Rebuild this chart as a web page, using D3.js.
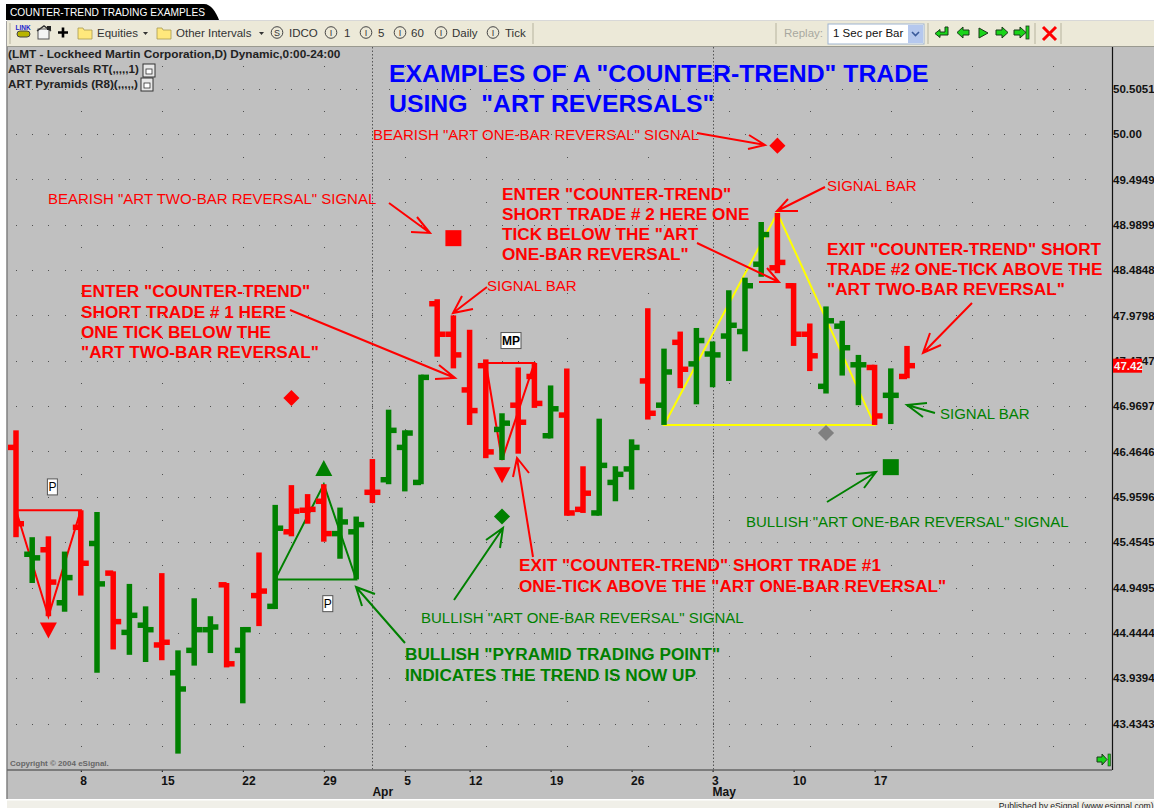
<!DOCTYPE html>
<html>
<head>
<meta charset="utf-8">
<title>COUNTER-TREND TRADING EXAMPLES</title>
<script src="https://cdn.jsdelivr.net/npm/d3@7"></script>
<style>
  html, body { margin: 0; padding: 0; background: #fff; overflow: hidden; }
  svg { display: block; font-family: "Liberation Sans", Arial, sans-serif; }
  svg text { white-space: pre; }
  .bold { font-weight: bold; }
</style>
</head>
<body>
<div class="chart"></div>
<script>
// LMT daily bars (Apr 9 2004 was a market holiday)
const days = [
  "Mar 2","Mar 3","Mar 4","Mar 5","Mar 8","Mar 9","Mar 10","Mar 11","Mar 12","Mar 15","Mar 16","Mar 17","Mar 18","Mar 19",
  "Mar 22","Mar 23","Mar 24","Mar 25","Mar 26","Mar 29","Mar 30","Mar 31","Apr 1","Apr 2","Apr 5","Apr 6","Apr 7","Apr 8",
  "Apr 12","Apr 13","Apr 14","Apr 15","Apr 16","Apr 19","Apr 20","Apr 21","Apr 22","Apr 23","Apr 26","Apr 27","Apr 28","Apr 29","Apr 30",
  "May 3","May 4","May 5","May 6","May 7","May 10","May 11","May 12","May 13","May 14","May 17","May 18","May 19"
];
const opens = [
  46.51,45.32,45.37,44.78,45.62,45.44,45.11,44.45,44.53,44.31,44.00,44.25,44.48,44.98,
  44.25,44.86,44.74,45.57,45.81,45.91,45.55,45.57,46.01,46.15,46.51,46.12,48.11,47.77,
  47.15,47.42,46.71,46.98,47.30,46.64,46.87,45.82,45.78,46.12,46.27,47.25,46.98,47.68,47.44,
  47.55,47.75,47.80,48.55,48.51,48.31,47.77,47.19,47.86,47.43,47.40,47.09,47.30
];
const highs = [
  46.70,45.51,45.52,45.35,45.81,45.79,45.13,44.99,44.74,45.11,44.25,44.83,44.63,45.00,
  44.51,45.34,45.87,46.09,45.99,46.10,45.84,45.74,46.38,46.93,46.70,47.32,48.16,47.98,
  47.82,47.49,46.89,47.40,47.45,47.20,47.39,46.30,46.83,46.30,46.60,48.06,47.61,47.80,47.84,
  47.69,48.26,48.40,49.02,49.12,48.34,47.89,48.08,47.92,47.54,47.43,47.39,47.64
];
const lows = [
  45.51,45.00,44.63,44.68,44.86,44.00,44.26,44.20,44.12,44.14,43.10,44.08,44.22,44.06,
  43.66,44.52,44.71,45.52,45.66,45.46,45.27,45.04,45.89,46.10,46.02,46.10,47.52,47.39,
  46.76,46.39,46.37,46.44,46.95,46.61,45.75,45.78,45.75,45.91,46.04,46.82,46.76,47.17,46.99,
  47.18,47.25,47.58,48.41,48.45,47.64,47.36,47.11,47.31,46.98,46.76,46.77,47.28
];
const closes = [
  45.66,45.28,45.01,45.06,45.22,44.99,44.57,44.64,44.48,44.34,43.82,44.48,44.51,44.10,
  44.48,44.91,45.61,45.80,45.82,45.55,45.68,45.65,46.01,46.70,46.67,47.29,47.77,47.54,
  46.92,46.46,46.78,46.79,47.00,46.94,45.78,46.00,46.31,46.21,46.51,46.89,47.35,47.38,47.70,
  47.54,47.87,48.31,48.88,48.57,47.77,47.53,47.92,47.62,47.43,46.86,47.09,47.42
];
const barColors = [
  "r","g","r","g","r","g","r","g","g","r","g","g","g","r",
  "g","r","g","r","r","r","g","g","r","g","g","g","r","r",
  "r","r","g","r","r","g","r","r","g","g","g","r","g","r","g",
  "g","g","g","g","r","r","r","g","g","g","r","g","r"
];

const priceTicks = [50.5051,50,49.4949,48.9899,48.4848,47.9798,47.4747,46.9697,46.4646,45.9596,45.4545,44.9495,44.4444,43.9394,43.4343];
const dateTicks = ["Mar 8","Mar 15","Mar 22","Mar 29","Apr 5","Apr 12","Apr 19","Apr 26","May 3","May 10","May 17"];
const monthStarts = [["Apr 1","Apr"],["May 3","May"]];
const lastPrice = 47.42;

// pyramid patterns: [corner, apex, corner] as [day, price]
const pyramids = [
  { color: "#ff0000", points: [["Mar 2",45.81],["Mar 4",44.63],["Mar 8",45.81]] },
  { color: "#008000", points: [["Mar 24",45.04],["Mar 29",46.10],["Mar 31",45.04]] },
  { color: "#ff0000", points: [["Apr 13",47.45],["Apr 14",46.37],["Apr 16",47.45]] },
  { color: "#ffff00", points: [["Apr 28",46.76],["May 7",49.12],["May 17",46.76]] }
];
const signals = [
  { day: "May 7",  price: 49.87, shape: "diamond", color: "#ff0000" },
  { day: "Apr 8",  price: 48.84, shape: "square",  color: "#ff0000" },
  { day: "Mar 25", price: 47.06, shape: "diamond", color: "#ff0000" },
  { day: "Mar 29", price: 46.28, shape: "up",      color: "#008000" },
  { day: "Mar 4",  price: 44.47, shape: "down",    color: "#ff0000" },
  { day: "Apr 14", price: 46.20, shape: "down",    color: "#ff0000" },
  { day: "Apr 14", price: 45.74, shape: "diamond", color: "#008000" },
  { day: "May 12", price: 46.67, shape: "diamond", color: "#808080" },
  { day: "May 18", price: 46.29, shape: "square",  color: "#008000" }
];
const tags = [
  { day: "Mar 4",  price: 46.07, text: "P" },
  { day: "Mar 29", price: 44.77, text: "P" },
  { day: "Apr 14", price: 47.70, text: "MP" }
];

const RED = "#ff0000", GREEN = "#008000", BLUE = "#0000ff";

const svg = d3.select(".chart").append("svg").attr("width", 1154).attr("height", 808);

const x = d3.scalePoint().domain(days).range([16, 907]);
const y = d3.scaleLinear().domain([50, 43.4343]).range([134, 723.6]);
const step = x.step();
const axisX = 1112, axisY = 770, plotTop = 47;

// ---- window frame ----
svg.append("rect").attr("x", 7).attr("y", plotTop).attr("width", 1147).attr("height", 752).attr("fill", "#c0c0c0");
svg.append("line").attr("x1", 7).attr("x2", 7).attr("y1", 21).attr("y2", 800).attr("stroke", "#808080").attr("stroke-width", 1.5);
svg.append("rect").attr("x", 0).attr("y", 799).attr("width", 1154).attr("height", 1.5).attr("fill", "#fff");
svg.append("rect").attr("x", 7).attr("y", 800.5).attr("width", 1147).attr("height", 8).attr("fill", "#f0efe8");
svg.append("text").attr("x", 1153.5).attr("y", 809).attr("text-anchor", "end").attr("font-size", 8.6).attr("fill", "#222")
  .text("Published by eSignal (www.esignal.com)");

// title tab
svg.append("path").attr("d", "M6,4H204C211,4 216,12 219,20H6Z").attr("fill", "#000");
svg.append("text").attr("x", 10).attr("y", 15.5).attr("font-size", 10.2).attr("fill", "#fff").text("COUNTER-TREND TRADING EXAMPLES");

// ---- toolbar ----
const bar = svg.append("g");
bar.append("rect").attr("x", 7).attr("y", 21).attr("width", 1147).attr("height", 25).attr("fill", "#ece9d8");
bar.append("line").attr("x1", 7).attr("x2", 1154).attr("y1", 20.5).attr("y2", 20.5).attr("stroke", "#d8d8d8");
bar.append("line").attr("x1", 7).attr("x2", 1154).attr("y1", 46.5).attr("y2", 46.5).attr("stroke", "#9a9a90");

function toolText(tx, txt, color) {
  bar.append("text").attr("x", tx).attr("y", 37).attr("font-size", 11.5).attr("fill", color || "#333").text(txt);
}
function separator(sx) {
  bar.append("line").attr("x1", sx).attr("x2", sx).attr("y1", 23).attr("y2", 44).attr("stroke", "#c8c5b2").attr("stroke-width", 1.5);
}
function folder(fx) {
  bar.append("path").attr("d", `M${fx},28h5l1,2h8v9h-14z`).attr("fill", "#ffe87c").attr("stroke", "#a89a50").attr("stroke-width", 0.8);
}
function badge(bx, letter) {
  bar.append("circle").attr("cx", bx).attr("cy", 32.5).attr("r", 5.8).attr("fill", "none").attr("stroke", "#444");
  bar.append("text").attr("x", bx).attr("y", 36).attr("text-anchor", "middle").attr("font-size", 9).attr("fill", "#333").text(letter);
}
function caret(cx) {
  bar.append("path").attr("d", `M${cx},32h5l-2.5,3z`).attr("fill", "#333");
}
// green arrow button, dir = 1 points right, -1 points left
function greenArrow(cx, dir) {
  bar.append("path")
    .attr("d", `M${cx - 6 * dir},30h${6 * dir}v-3l${6 * dir},5.5l${-6 * dir},5.5v-3h${-6 * dir}z`)
    .attr("fill", "#19d419").attr("stroke", "#1a3a1a").attr("stroke-width", 1);
}

separator(10);
// link icon
bar.append("text").attr("x", 23).attr("y", 30).attr("text-anchor", "middle").attr("font-size", 6.5).attr("class", "bold").attr("fill", "#2222cc").text("LINK");
bar.append("rect").attr("x", 17).attr("y", 31).attr("width", 13).attr("height", 6).attr("rx", 3).attr("fill", "#b8b400").attr("stroke", "#444");
// properties icon
bar.append("rect").attr("x", 38).attr("y", 29).attr("width", 11).attr("height", 10).attr("fill", "#f4f4f4").attr("stroke", "#555");
bar.append("path").attr("d", "M37,31L44,26L51,31").attr("fill", "none").attr("stroke", "#333").attr("stroke-width", 1.5);
bar.append("rect").attr("x", 47).attr("y", 26).attr("width", 4).attr("height", 4).attr("fill", "#222");
// plus
bar.append("path").attr("d", "M63,27.5v10M58,32.5h10").attr("stroke", "#000").attr("stroke-width", 2.6);

folder(78); toolText(97, "Equities"); caret(143);
folder(157); toolText(176, "Other Intervals"); caret(259);
badge(277, "S"); toolText(289, "IDCO");
badge(331, "I"); toolText(344, "1");
badge(366, "I"); toolText(378, "5");
badge(400, "I"); toolText(411, "60");
badge(441, "I"); toolText(452, "Daily");
badge(493, "I"); toolText(505, "Tick");
separator(533);
separator(776);
toolText(784, "Replay:", "#a8a8a0");
bar.append("rect").attr("x", 828).attr("y", 24).attr("width", 96).attr("height", 20).attr("fill", "#fff").attr("stroke", "#9db4cf");
bar.append("text").attr("x", 833).attr("y", 37).attr("font-size", 11.5).attr("fill", "#111").text("1 Sec per Bar");
bar.append("rect").attr("x", 908).attr("y", 25).attr("width", 15).attr("height", 18).attr("fill", "#b5c8ee");
bar.append("path").attr("d", "M912,32l3.5,3.5l3.5,-3.5").attr("fill", "none").attr("stroke", "#3a5a9a").attr("stroke-width", 1.6);
separator(928);
bar.append("path").attr("d", "M945,27h3v8h-8v2.5l-5,-4l5,-4v2.5h5z").attr("fill", "#19d419").attr("stroke", "#1a3a1a");
greenArrow(963, -1);
bar.append("path").attr("d", "M979,28l9,5l-9,5z").attr("fill", "#19d419").attr("stroke", "#1a3a1a");
greenArrow(1002, 1);
greenArrow(1020, 1);
bar.append("rect").attr("x", 1026).attr("y", 26).attr("width", 3).attr("height", 13).attr("fill", "#19d419").attr("stroke", "#1a3a1a").attr("stroke-width", 0.8);
separator(1035);
bar.append("path").attr("d", "M1043,27l13,13M1056,27l-13,13").attr("stroke", RED).attr("stroke-width", 3);
separator(1061);

// ---- dotted grid ----
const grid = svg.append("g").attr("fill", "#505050");
const slots = d3.range(0, Math.floor((axisX - 16) / step)).map(function (k) { return Math.round(x(days[0]) + k * step); });
priceTicks.forEach(function (p) {
  slots.forEach(function (sx) {
    grid.append("rect").attr("x", sx).attr("y", Math.round(y(p))).attr("width", 1).attr("height", 1);
  });
});
const halfStep = (y(priceTicks[1]) - y(priceTicks[0])) / 2;
const firstCol = x(dateTicks[0]);
d3.range(0, 13).forEach(function (c) {
  const cx = Math.round(firstCol + c * 5 * step);
  priceTicks.forEach(function (p) {
    grid.append("rect").attr("x", cx).attr("y", Math.round(y(p) + halfStep)).attr("width", 1).attr("height", 1);
  });
  grid.append("rect").attr("x", cx).attr("y", Math.round(y(priceTicks[0]) - halfStep)).attr("width", 1).attr("height", 1);
});

// month separators
svg.append("g").selectAll("line")
  .data(monthStarts)
  .join("line")
  .attr("x1", function (d) { return Math.round(x(d[0])) + 0.5; })
  .attr("x2", function (d) { return Math.round(x(d[0])) + 0.5; })
  .attr("y1", plotTop)
  .attr("y2", axisY)
  .attr("stroke", "#555")
  .attr("stroke-dasharray", "1.5 2");

// ---- pyramids go under the bars ----
const pyramidLine = d3.line()
  .x(function (d) { return x(d[0]); })
  .y(function (d) { return y(d[1]); })
  .curve(d3.curveLinearClosed);
svg.append("g").selectAll("path")
  .data(pyramids)
  .join("path")
  .attr("d", function (d) { return pyramidLine(d.points); })
  .attr("fill", "none")
  .attr("stroke", function (d) { return d.color; })
  .attr("stroke-width", 2);

// ---- OHLC bars ----
const bars = svg.append("g").selectAll("g")
  .data(days)
  .join("g")
  .attr("stroke", function (d, i) { return barColors[i] === "r" ? RED : GREEN; })
  .attr("stroke-width", 5.5);
bars.append("line") // high-low
  .attr("x1", function (d) { return x(d); })
  .attr("x2", function (d) { return x(d); })
  .attr("y1", function (d, i) { return y(highs[i]); })
  .attr("y2", function (d, i) { return y(lows[i]); });
bars.append("line") // open
  .attr("x1", function (d) { return x(d) - 8; })
  .attr("x2", function (d) { return x(d); })
  .attr("y1", function (d, i) { return y(opens[i]); })
  .attr("y2", function (d, i) { return y(opens[i]); });
bars.append("line") // close
  .attr("x1", function (d) { return x(d); })
  .attr("x2", function (d) { return x(d) + 8; })
  .attr("y1", function (d, i) { return y(closes[i]); })
  .attr("y2", function (d, i) { return y(closes[i]); });

// ---- signal markers ----
const symbolPath = {
  diamond: d3.symbol().type(d3.symbolSquare).size(130)(),
  square: d3.symbol().type(d3.symbolSquare).size(256)(),
  up: "M0,-8L8.5,8H-8.5Z",
  down: "M0,8L8.5,-8H-8.5Z"
};
svg.append("g").selectAll("path")
  .data(signals)
  .join("path")
  .attr("d", function (d) { return symbolPath[d.shape]; })
  .attr("fill", function (d) { return d.color; })
  .attr("transform", function (d) {
    const r = d.shape === "diamond" ? " rotate(45)" : "";
    return `translate(${x(d.day)},${y(d.price)})${r}`;
  });

const tagG = svg.append("g").selectAll("g")
  .data(tags)
  .join("g")
  .attr("transform", function (d) {
    return `translate(${x(d.day) + (d.text === "MP" ? 9 : 4)},${y(d.price)})`;
  });
tagG.append("rect")
  .attr("x", function (d) { return d.text === "MP" ? -10 : -5; })
  .attr("y", -8)
  .attr("width", function (d) { return d.text === "MP" ? 20 : 10; })
  .attr("height", 16)
  .attr("fill", "#fff")
  .attr("stroke", "#555");
tagG.append("text")
  .attr("text-anchor", "middle")
  .attr("y", 4.5)
  .attr("font-size", 12)
  .attr("class", function (d) { return d.text === "MP" ? "bold" : null; })
  .attr("fill", "#000")
  .text(function (d) { return d.text; });

// ---- axes ----
const yAxis = svg.append("g")
  .attr("transform", `translate(${axisX},0)`)
  .call(d3.axisRight(y).tickValues(priceTicks).tickSize(0).tickPadding(1)
    .tickFormat(function (d) { return d === 50 ? "50.00" : d.toFixed(4); }));
yAxis.select(".domain").remove();
yAxis.selectAll("text").attr("font-family", "Liberation Sans").attr("font-size", 11.5).attr("font-weight", "bold").attr("fill", "#111");
svg.append("line").attr("x1", axisX + 0.5).attr("x2", axisX + 0.5).attr("y1", plotTop).attr("y2", axisY).attr("stroke", "#111").attr("stroke-width", 1.2);

const xAxis = svg.append("g")
  .attr("transform", `translate(0,${axisY})`)
  .call(d3.axisBottom(x).tickValues(dateTicks).tickSize(2).tickPadding(4)
    .tickFormat(function (d) { return d.split(" ")[1]; }));
xAxis.select(".domain").remove();
xAxis.selectAll("text").attr("font-family", "Liberation Sans").attr("text-anchor", "start").attr("dx", -1)
  .attr("font-size", 12).attr("font-weight", "bold").attr("fill", "#111");
svg.append("line").attr("x1", 7).attr("x2", axisX).attr("y1", axisY).attr("y2", axisY).attr("stroke", "#666").attr("stroke-width", 1.5);
svg.append("g").selectAll("text")
  .data(monthStarts)
  .join("text")
  .attr("x", function (d) { return x(d[0]); })
  .attr("y", 796)
  .attr("class", "bold")
  .attr("font-size", 12)
  .attr("fill", "#111")
  .text(function (d) { return d[1]; });

// current price tag
svg.append("rect").attr("x", axisX + 1).attr("y", y(lastPrice) - 7).attr("width", 29).attr("height", 14).attr("fill", RED);
svg.append("text").attr("x", axisX + 2).attr("y", y(lastPrice) + 4.5).attr("class", "bold").attr("font-size", 11.5).attr("fill", "#f4f4f4").text(lastPrice.toFixed(2));

// end-of-chart button
svg.append("path").attr("d", "M1097,757h5v-3l5,5.5l-5,5.5v-3h-5z").attr("fill", "#19d419").attr("stroke", "#1a3a1a");
svg.append("rect").attr("x", 1108).attr("y", 754).attr("width", 2.5).attr("height", 12).attr("fill", "#19d419").attr("stroke", "#1a3a1a").attr("stroke-width", 0.6);

// ---- study legend ----
const legend = [["(LMT - Lockheed Martin Corporation,D) Dynamic,0:00-24:00", 58, 11.8], ["ART Reversals RT(,,,,,1)", 73, 11.6], ["ART Pyramids (R8)(,,,,,)", 88, 11.7]];
legend.forEach(function (l) {
  svg.append("text").attr("x", 8).attr("y", l[1]).attr("class", "bold").attr("font-size", l[2]).attr("fill", "#222").text(l[0]);
});
[[143, 64], [141, 78]].forEach(function (p) {
  svg.append("rect").attr("x", p[0]).attr("y", p[1]).attr("width", 12).attr("height", 13).attr("fill", "#e8e8e8").attr("stroke", "#333");
  svg.append("rect").attr("x", p[0] + 3).attr("y", p[1] + 5).attr("width", 6).attr("height", 5).attr("fill", "#fff").attr("stroke", "#333").attr("stroke-width", 0.8);
});
svg.append("text").attr("x", 10).attr("y", 766).attr("class", "bold").attr("font-size", 8).attr("fill", "#666").text("Copyright © 2004 eSignal.");

// ---- hand drawn annotations ----
function note(tx, ty, txt, color, size, isBold) {
  svg.append("text").attr("x", tx).attr("y", ty).attr("font-size", size).attr("fill", color)
    .attr("class", isBold ? "bold" : null).text(txt);
}
function noteLines(tx, lines, color) {
  lines.forEach(function (l) { note(tx, l[0], l[1], color, 17.2, true); });
}
note(389, 82, 'EXAMPLES OF A "COUNTER-TREND" TRADE', BLUE, 24.8, true);
note(389, 112, 'USING  "ART REVERSALS"', BLUE, 24.8, true);
note(373, 140, 'BEARISH "ART ONE-BAR REVERSAL" SIGNAL', RED, 15);
note(48, 204, 'BEARISH "ART TWO-BAR REVERSAL" SIGNAL', RED, 15);
note(487, 291, "SIGNAL BAR", RED, 15);
note(827, 191, "SIGNAL BAR", RED, 15);
note(940, 419, "SIGNAL BAR", GREEN, 15);
note(421, 623, 'BULLISH "ART ONE-BAR REVERSAL" SIGNAL', GREEN, 15);
note(746, 527, 'BULLISH "ART ONE-BAR REVERSAL" SIGNAL', GREEN, 15);
noteLines(81, [[297, 'ENTER "COUNTER-TREND"'], [318, "SHORT TRADE # 1 HERE"], [338, "ONE TICK BELOW THE"], [358, '"ART TWO-BAR REVERSAL"']], RED);
noteLines(502, [[200, 'ENTER "COUNTER-TREND"'], [220, "SHORT TRADE # 2 HERE ONE"], [240, 'TICK BELOW THE "ART'], [260, 'ONE-BAR REVERSAL"']], RED);
noteLines(827, [[255, 'EXIT "COUNTER-TREND" SHORT'], [275, "TRADE #2 ONE-TICK ABOVE THE"], [295, '"ART TWO-BAR REVERSAL"']], RED);
noteLines(519, [[571, 'EXIT "COUNTER-TREND" SHORT TRADE #1'], [592, 'ONE-TICK ABOVE THE "ART ONE-BAR REVERSAL"']], RED);
noteLines(405, [[660, 'BULLISH "PYRAMID TRADING POINT"'], [681, "INDICATES THE TREND IS NOW UP"]], GREEN);

// shaft plus two barbs, all in page pixels
function arrow(color, from, tip, barbA, barbB) {
  svg.append("path")
    .attr("d", `M${from}L${tip}M${barbA}L${tip}L${barbB}`)
    .attr("fill", "none").attr("stroke", color).attr("stroke-width", 2);
}
arrow(RED, [697, 133], [765, 145], [749, 135], [748, 149]);
arrow(RED, [389, 203], [430, 233], [417, 217], [411, 232]);
arrow(RED, [487, 287], [453, 313], [462, 296], [473, 309]);
arrow(RED, [290, 310], [455, 378], [439, 365], [435, 379]);
arrow(RED, [697, 243], [779, 282], [767, 268], [759, 282]);
arrow(RED, [825, 187], [777, 211], [788, 199], [798, 211]);
arrow(RED, [972, 303], [923, 353], [930, 333], [941, 345]);
arrow(RED, [533, 557], [517, 458], [513, 477], [529, 473]);
arrow(GREEN, [935, 413], [907, 405], [927, 403], [923, 417]);
arrow(GREEN, [405, 643], [356, 587], [375, 594], [362, 606]);
arrow(GREEN, [454, 600], [503, 528], [486, 540], [500, 548]);
arrow(GREEN, [827, 502], [876, 472], [856, 474], [864, 488]);
</script>
</body>
</html>
